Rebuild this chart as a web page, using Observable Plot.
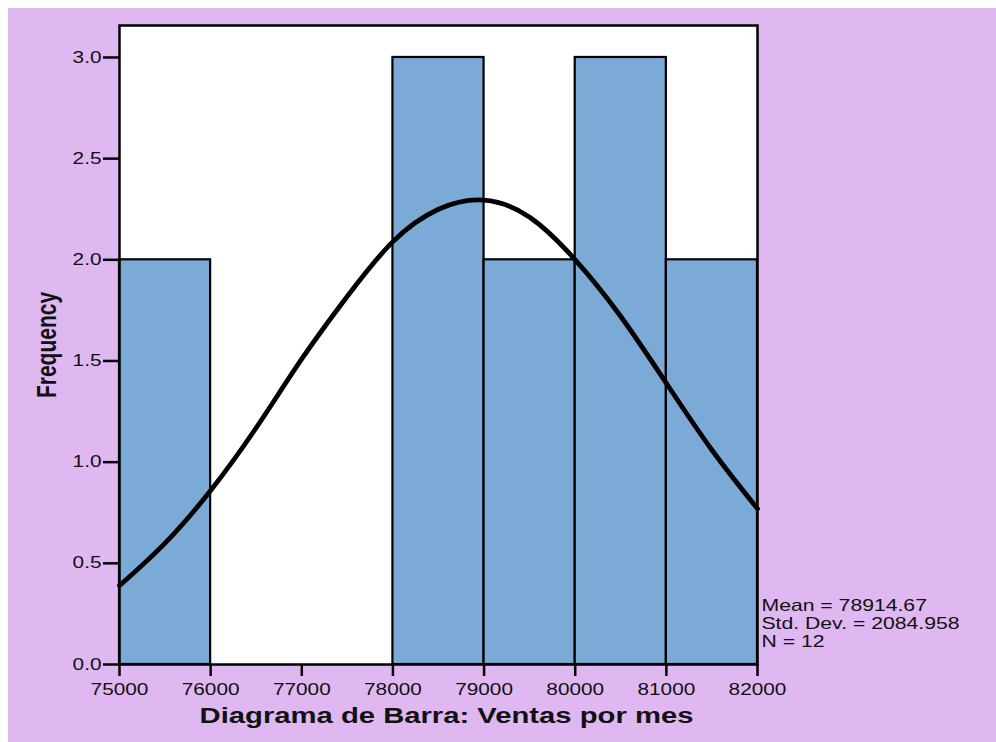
<!DOCTYPE html>
<html>
<head>
<meta charset="utf-8">
<script src="https://cdn.jsdelivr.net/npm/d3@7"></script>
<script src="https://cdn.jsdelivr.net/npm/@observablehq/plot@0.6"></script>
<style>
  html, body { margin: 0; padding: 0; background: #ffffff; }
  #bg { position: absolute; left: 8px; top: 8px; width: 988px; height: 734px; background: #DFB8F2; }
  #chart { position: absolute; left: 0; top: 0; }
</style>
</head>
<body>
<div id="bg"></div>
<div id="chart"></div>
<script>
// Histogram bins (Ventas por mes)
const binStart = [75000, 76000, 77000, 78000, 79000, 80000, 81000];
const binEnd   = [76000, 77000, 78000, 79000, 80000, 81000, 82000];
const counts   = [2, 0, 0, 3, 2, 3, 2];

// Normal curve
const curveX = [75000, 75500, 76000, 76500, 77000, 77500, 78000, 78500, 79000, 79500, 80000, 80500, 81000, 81500, 82000];
const curveY = [0.39, 0.60, 0.86, 1.17, 1.51, 1.82, 2.09, 2.25, 2.295, 2.21, 2.00, 1.72, 1.39, 1.06, 0.77];

// Tick values
const xTicks = [75000, 76000, 77000, 78000, 79000, 80000, 81000, 82000];
const yTicks = [0, 0.5, 1.0, 1.5, 2.0, 2.5, 3.0];

// Texts
const xTitle = "Diagrama de Barra: Ventas por mes";
const yTitle = "Frequency";
const statsLines = ["Mean = 78914.67", "Std. Dev. = 2084.958", "N = 12"];

const bins = binStart.map((s, i) => ({x1: s, x2: binEnd[i], count: counts[i]})).filter(d => d.count > 0);
const curve = curveX.map((x, i) => ({x, y: curveY[i]}));

const plot = Plot.plot({
  width: 996,
  height: 742,
  marginLeft: 119,
  marginRight: 239,
  marginTop: 25,
  marginBottom: 78,
  style: {background: "transparent", fontFamily: "'Liberation Sans', Arial, sans-serif", fontSize: "16px", color: "#111"},
  x: {domain: [75000, 82000], label: null},
  y: {domain: [0, 3.158], label: null},
  marks: [
    Plot.frame({fill: "white"}),
    Plot.rectY(bins, {x1: "x1", x2: "x2", y: "count", fill: "#7BAAD6", stroke: "black", strokeWidth: 2.2, inset: 0}),
    Plot.line(curve, {x: "x", y: "y", stroke: "black", strokeWidth: 4.8, curve: "natural"}),
    Plot.frame({stroke: "black", strokeWidth: 2.5}),
    Plot.axisX({ticks: xTicks, tickSize: 12, tickPadding: 7, tickFormat: d3.format("d"), strokeWidth: 2.5, stroke: "black", fontSize: 16, label: null}),
    Plot.axisY({ticks: yTicks, tickSize: 16, tickPadding: 2, tickFormat: d3.format(".1f"), strokeWidth: 2.5, stroke: "black", fontSize: 16, label: null}),
    Plot.text([xTitle], {frameAnchor: "bottom", lineAnchor: "bottom", dy: 58, dx: 8, fontSize: 22.5, fontWeight: "bold", fill: "#111"}),
    Plot.text([yTitle], {frameAnchor: "left", textAnchor: "middle", rotate: -90, lineAnchor: "bottom", dx: -64, fontSize: 21, fontWeight: "bold", fill: "#111"}),
    Plot.text([statsLines.join("\n")], {frameAnchor: "bottom-right", textAnchor: "start", lineAnchor: "bottom", lineHeight: 1.09, dx: 4, dy: -18, fontSize: 16.3, fill: "#111"})
  ]
});

// Original chart glyphs are horizontally stretched (~1.3x)
plot.querySelectorAll("text").forEach(t => {
  const tr = t.getAttribute("transform");
  if (tr && tr.trim().startsWith("translate")) {
    const idx = tr.indexOf(")") + 1;
    t.setAttribute("transform", tr.slice(0, idx) + " scale(1.3,1)" + tr.slice(idx));
  } else {
    const x = +(t.getAttribute("x") || 0);
    t.setAttribute("x", 0);
    t.setAttribute("transform", `translate(${x},0) scale(1.3,1)` + (tr ? " " + tr : ""));
  }
});

document.getElementById("chart").appendChild(plot);
</script>
</body>
</html>
